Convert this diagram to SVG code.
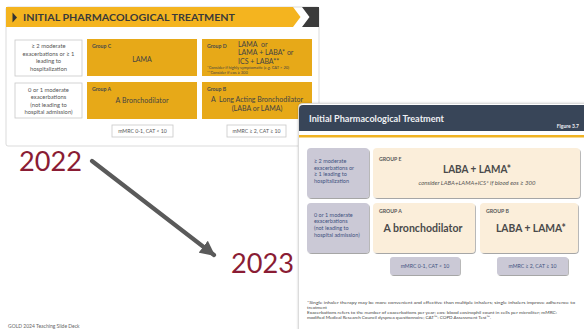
<svg xmlns="http://www.w3.org/2000/svg" width="584" height="329" viewBox="0 0 584 329">
  <style>
    text { font-family: Lato, "Liberation Sans", sans-serif; }
    .gold-box { fill: #E7A918; }
    .w-label { fill: #fff; stroke: #c9c9c9; stroke-width: 0.8; }
    .w-txt { font-size: 5.8px; fill: #555; text-anchor: middle; }
    .grp22 { font-size: 5.2px; font-weight: bold; fill: #4a4a4a; }
    .body22 { font-size: 7px; fill: #444; }
    .mm22 { font-size: 5.2px; fill: #555; text-anchor: middle; }
    .lav { fill: #CBC9D6; filter: url(#soft); }
    .cream { fill: #FBEEDA; filter: url(#soft); }
    .lav-txt { font-size: 5.5px; fill: #41527F; }
    .grp23 { font-size: 5.2px; font-weight: bold; fill: #585858; }
    .big23 { font-size: 11.5px; font-weight: bold; fill: #4a4a4a; text-anchor: middle; }
    .mm23 { font-size: 5.2px; fill: #41527F; text-anchor: middle; }
    .note { font-size: 4.6px; fill: #444; }
    .year { font-size: 26px; fill: #8A1C34; }
  </style>
  <defs>
    <filter id="soft" x="-10%" y="-10%" width="125%" height="130%">
      <feDropShadow dx="0.8" dy="1" stdDeviation="0.7" flood-color="#000" flood-opacity="0.35"/>
    </filter>
    <filter id="card" x="-5%" y="-5%" width="110%" height="110%">
      <feDropShadow dx="0" dy="0" stdDeviation="1" flood-color="#000" flood-opacity="0.2"/>
    </filter>
    <marker id="head" viewBox="0 0 10 10" refX="9" refY="5" markerWidth="3.6" markerHeight="3.6" orient="auto" markerUnits="strokeWidth">
      <path d="M0,0 L10,5 L0,10 Z" fill="#5a5a5a"/>
    </marker>
  </defs>

  <rect width="584" height="329" fill="#fff"/>

  <!-- 2022 table -->
  <g id="panel-2022">
    <rect x="6" y="7" width="313" height="139" rx="2" fill="#fff" stroke="#d2d2d2" stroke-width="0.8"/>
    <polygon fill="#F4B41F" points="6,7 293,7 300.5,17 293,27 6,27"/>
    <polygon fill="#3b3b3b" points="302,7 319,7 319,27 302,27 309.5,17"/>
    <polygon fill="#333" points="12.5,12.5 17,17.5 12.5,22.5"/>
    <text x="23" y="21" font-size="10" font-weight="bold" fill="#3a3a3a" textLength="212" lengthAdjust="spacingAndGlyphs">INITIAL PHARMACOLOGICAL TREATMENT</text>
  </g>

  <g id="label-high-2022">
    <rect class="w-label" x="15" y="40" width="67" height="36"/>
    <text class="w-txt" x="48.5" y="48">≥ 2 moderate</text>
    <text class="w-txt" x="48.5" y="55.5">exacerbations or ≥ 1</text>
    <text class="w-txt" x="48.5" y="63">leading to</text>
    <text class="w-txt" x="48.5" y="70.5">hospitalization</text>
  </g>

  <g id="label-low-2022">
    <rect class="w-label" x="15" y="83" width="67" height="35"/>
    <text class="w-txt" x="48.5" y="92">0 or 1 moderate</text>
    <text class="w-txt" x="48.5" y="99.3">exacerbations</text>
    <text class="w-txt" x="48.5" y="106.6">(not leading to</text>
    <text class="w-txt" x="48.5" y="114">hospital admission)</text>
  </g>

  <g id="group-c-2022">
    <rect class="gold-box" x="87" y="39" width="110" height="37"/>
    <text class="grp22" x="92" y="47.5">Group C</text>
    <text class="body22" x="142" y="62" text-anchor="middle">LAMA</text>
  </g>

  <g id="group-d-2022">
    <rect class="gold-box" x="202" y="39" width="110" height="37"/>
    <text class="grp22" x="207" y="47.5">Group D</text>
    <text class="body22" x="238" y="46.5" xml:space="preserve">LAMA  or</text>
    <text class="body22" x="238" y="55">LAMA + LABA* or</text>
    <text class="body22" x="238" y="63.5">ICS + LABA**</text>
    <text x="207" y="68.8" font-size="4" fill="#444">*Consider if highly symptomatic (e.g. CAT &gt; 20)</text>
    <text x="207" y="73.6" font-size="4" fill="#444">**Consider if eos ≥ 300</text>
  </g>

  <g id="group-a-2022">
    <rect class="gold-box" x="87" y="82" width="110" height="37"/>
    <text class="grp22" x="92" y="90.5">Group A</text>
    <text class="body22" x="142" y="103" text-anchor="middle" textLength="53">A Bronchodilator</text>
  </g>

  <g id="group-b-2022">
    <rect class="gold-box" x="202" y="82" width="110" height="37"/>
    <text class="grp22" x="207" y="90.5">Group B</text>
    <text class="body22" x="211" y="102" xml:space="preserve" textLength="92">A  Long Acting Bronchodilator</text>
    <text class="body22" x="257" y="110.5" text-anchor="middle">(LABA or LAMA)</text>
  </g>

  <g id="axis-low-2022">
    <rect class="w-label" x="112" y="125" width="61" height="12"/>
    <text class="mm22" x="142.5" y="133">mMRC 0-1, CAT &lt; 10</text>
  </g>

  <g id="axis-high-2022">
    <rect class="w-label" x="227" y="125" width="59" height="12"/>
    <text class="mm22" x="256.5" y="133">mMRC ≥ 2, CAT ≥ 10</text>
  </g>

  <!-- year labels -->
  <g id="year-2022">
    <text class="year" x="19" y="171" textLength="63" lengthAdjust="spacingAndGlyphs">2022</text>
  </g>
  <g id="year-2023">
    <text class="year" x="231" y="273" textLength="63" lengthAdjust="spacingAndGlyphs">2023</text>
  </g>

  <!-- connectors -->
  <g id="connectors">
    <line x1="92" y1="161" x2="214" y2="255" stroke="#5a5a5a" stroke-width="4.2" stroke-linecap="round" marker-end="url(#head)"/>
  </g>

  <!-- 2023 figure -->
  <g id="panel-2023">
    <rect x="298.5" y="103.5" width="300" height="240" rx="4" fill="#fff" stroke="#d6d6d6" stroke-width="0.8" filter="url(#card)"/>
    <path d="M303,105 H584 V131 H299 V109 A4,4 0 0 1 303,105 Z" fill="#384558"/>
    <text x="309" y="122" font-size="9" font-weight="bold" fill="#eef0f4" textLength="135" lengthAdjust="spacingAndGlyphs">Initial Pharmacological Treatment</text>
    <text x="579" y="128" font-size="5" font-weight="bold" fill="#eef0f4" text-anchor="end">Figure 3.7</text>
    <rect x="299" y="135" width="285" height="2.5" fill="#F0B323"/>
  </g>

  <g id="label-high-2023">
    <rect class="lav" x="307" y="148" width="62" height="50" rx="4"/>
    <text class="lav-txt" x="314" y="163">≥ 2 moderate</text>
    <text class="lav-txt" x="314" y="169.7">exacerbations or</text>
    <text class="lav-txt" x="314" y="176.4">≥ 1 leading to</text>
    <text class="lav-txt" x="314" y="183.1">hospitalization</text>
  </g>

  <g id="label-low-2023">
    <rect class="lav" x="307" y="203" width="62" height="50" rx="4"/>
    <text class="lav-txt" x="314" y="216.5">0 or 1 moderate</text>
    <text class="lav-txt" x="314" y="223.2">exacerbations</text>
    <text class="lav-txt" x="314" y="229.9">(not leading to</text>
    <text class="lav-txt" x="314" y="236.6">hospital admission)</text>
  </g>

  <g id="group-e-2023">
    <rect class="cream" x="373" y="148" width="207" height="50" rx="4"/>
    <text class="grp23" x="379" y="160.5">GROUP E</text>
    <text class="big23" x="477" y="173" textLength="68" lengthAdjust="spacingAndGlyphs">LABA + LAMA*</text>
    <text x="477" y="184.5" font-size="5" font-style="italic" fill="#555" text-anchor="middle" textLength="117" lengthAdjust="spacingAndGlyphs">consider LABA+LAMA+ICS* if blood eos ≥ 300</text>
  </g>

  <g id="group-a-2023">
    <rect class="cream" x="373" y="203" width="102" height="50" rx="4"/>
    <text class="grp23" x="379" y="213">GROUP A</text>
    <text class="big23" x="423" y="231.5" textLength="79" lengthAdjust="spacingAndGlyphs">A bronchodilator</text>
  </g>

  <g id="group-b-2023">
    <rect class="cream" x="480" y="203" width="98" height="50" rx="4"/>
    <text class="grp23" x="486" y="213">GROUP B</text>
    <text class="big23" x="531" y="231.5" textLength="70" lengthAdjust="spacingAndGlyphs">LABA + LAMA*</text>
  </g>

  <g id="axis-low-2023">
    <rect class="lav" x="390" y="257" width="70" height="18" rx="3"/>
    <text class="mm23" x="425" y="267.8">mMRC 0-1, CAT &lt; 10</text>
  </g>

  <g id="axis-high-2023">
    <rect class="lav" x="497" y="257" width="71" height="18" rx="3"/>
    <text class="mm23" x="532.5" y="267.8">mMRC ≥ 2, CAT ≥ 10</text>
  </g>

  <g id="footnotes-2023">
    <text class="note" x="307" y="304" textLength="268" lengthAdjust="spacingAndGlyphs">*Single inhaler therapy may be more convenient and effective than multiple inhalers; single inhalers improve adherence to</text>
    <text class="note" x="307" y="309">treatment</text>
    <text class="note" x="307" y="314.3" textLength="250" lengthAdjust="spacingAndGlyphs">Exacerbations refers to the number of exacerbations per year; eos: blood eosinophil count in cells per microliter; mMRC:</text>
    <text class="note" x="307" y="319.3" textLength="184" lengthAdjust="spacingAndGlyphs">modified Medical Research Council dyspnea questionnaire; CAT™: COPD Assessment Test™.</text>
  </g>

  <text x="8" y="327.5" font-size="5" fill="#666">GOLD 2024 Teaching Slide Deck</text>
</svg>
